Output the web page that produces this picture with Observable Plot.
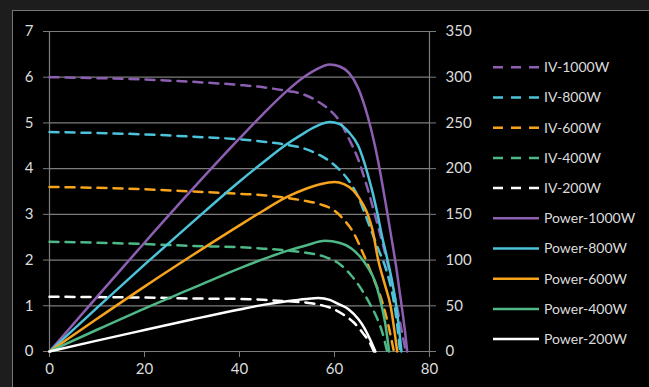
<!DOCTYPE html>
<html>
<head>
<meta charset="utf-8">
<script src="https://cdn.jsdelivr.net/npm/d3@7"></script>
<script src="https://cdn.jsdelivr.net/npm/@observablehq/plot@0.6"></script>
<style>
  html, body { margin: 0; padding: 0; background: #1d1d1d; width: 649px; height: 387px; overflow: hidden; }
  #panel { position: absolute; left: 12px; top: 10px; width: 700px; height: 420px; background: #000; border: 1.5px solid #767676; }
  #chart { position: absolute; left: 0; top: 0; }
  #legend { position: absolute; left: 0; top: 0; }
</style>
</head>
<body>
<div id="panel"></div>
<div id="chart"></div>
<svg id="legend" width="649" height="387"></svg>
<script>
// ---- Data (voltage V, current A, power W) ----
const iv1000V = [0, 10, 20, 30, 40, 45, 50, 53, 56, 59, 61, 63, 65, 67, 69, 71, 73, 75];
const iv1000I = [6.00, 5.98, 5.95, 5.90, 5.83, 5.78, 5.70, 5.64, 5.50, 5.28, 5.05, 4.66, 4.20, 3.55, 2.80, 2.00, 1.05, 0];
const pw1000V = [0, 10, 20, 30, 40, 45, 50, 53, 56, 59, 61, 63, 65, 67, 69, 71, 72, 73, 74, 75, 75.3];
const pw1000P = [0, 59.8, 119, 177, 233, 260, 285, 298, 308, 314, 312, 305, 288, 257, 213, 155, 124, 92, 55, 15, 0];

const iv800V = [0, 10, 20, 30, 40, 45, 50, 53, 56, 59, 61, 63, 65, 67, 69, 71, 72, 73, 73.8];
const iv800I = [4.80, 4.78, 4.75, 4.70, 4.64, 4.59, 4.52, 4.46, 4.34, 4.16, 3.98, 3.74, 3.38, 2.85, 2.30, 1.75, 1.35, 0.75, 0];
const pw800V = [0, 10, 20, 30, 40, 45, 50, 53, 56, 59, 61, 63, 65, 67, 69, 70, 71, 72, 73, 74.1];
const pw800P = [0, 47.8, 95, 141, 186, 207, 227, 237, 246, 251, 249, 240, 225, 194, 152, 126, 104, 80, 50, 0];

const iv600V = [0, 10, 20, 30, 40, 45, 50, 54, 57, 60, 62, 64, 66, 68, 70, 71.5, 72.5];
const iv600I = [3.60, 3.58, 3.55, 3.50, 3.45, 3.42, 3.36, 3.29, 3.22, 3.08, 2.88, 2.60, 2.15, 1.65, 1.10, 0.50, 0];
const pw600V = [0, 10, 20, 30, 40, 45, 50, 54, 57, 60, 62, 64, 66, 67, 68, 69.2, 70.5, 71.8, 73.2];
const pw600P = [0, 35.8, 71, 105, 138, 154, 169, 178, 183, 185.5, 183, 176, 161, 150, 133, 100, 75, 50, 0];

const iv400V = [0, 10, 20, 30, 40, 45, 50, 54, 58, 61, 63.4, 65.3, 67.4, 69, 70, 71.1];
const iv400I = [2.40, 2.38, 2.35, 2.31, 2.28, 2.25, 2.21, 2.16, 2.07, 1.92, 1.68, 1.42, 1.05, 0.72, 0.44, 0];
const pw400V = [0, 10, 20, 30, 40, 45, 50, 54, 58, 61, 63.5, 65.5, 67, 68.5, 69.7, 70.7, 71.5];
const pw400P = [0, 23.8, 47, 69, 91, 101, 110, 116, 121, 119, 113, 103, 92, 77, 55, 30, 0];

const iv200V = [0, 10, 20, 30, 40, 45, 50, 54, 57, 60, 62, 64, 66, 67.5, 68.3];
const iv200I = [1.20, 1.19, 1.18, 1.16, 1.15, 1.13, 1.10, 1.07, 1.02, 0.92, 0.80, 0.64, 0.40, 0.18, 0];
const pw200V = [0, 10, 20, 30, 40, 45, 50, 54, 56.6, 59, 61, 63, 65, 66.2, 67.6, 68.6];
const pw200P = [0, 11.9, 23.5, 35, 46, 51, 55, 57.5, 58.5, 56.5, 51.5, 46, 35.5, 26.5, 12, 0];

const xTicks = [0, 20, 40, 60, 80];
const yTicksLeft = [0, 1, 2, 3, 4, 5, 6, 7];
const powerPerAmpTick = 50; // right axis: 0..350

const seriesNames = ["IV-1000W", "IV-800W", "IV-600W", "IV-400W", "IV-200W",
                     "Power-1000W", "Power-800W", "Power-600W", "Power-400W", "Power-200W"];
const seriesColors = ["#8d5fb2", "#4cc3d9", "#f7a31c", "#4fb887", "#ffffff",
                      "#8d5fb2", "#4cc3d9", "#f7a31c", "#4fb887", "#ffffff"];

const ivSets = [[iv1000V, iv1000I], [iv800V, iv800I], [iv600V, iv600I], [iv400V, iv400I], [iv200V, iv200I]];
const pwSets = [[pw1000V, pw1000P], [pw800V, pw800P], [pw600V, pw600P], [pw400V, pw400P], [pw200V, pw200P]];

const gray = "#7c7c7c";
const textColor = "#dcdcdc";
const dash = "9,7";
const font = "Lato, 'Open Sans', sans-serif";

const ivMarks = ivSets.map(([vs, is], k) =>
  Plot.line(vs.map((v, i) => ({v, y: is[i]})), {
    x: "v", y: "y", stroke: seriesColors[k], strokeWidth: 2.5,
    strokeDasharray: dash, curve: "monotone-x"
  }));
const pwMarks = pwSets.map(([vs, ps], k) =>
  Plot.line(vs.map((v, i) => ({v, p: ps[i]})), {
    x: "v", y: d => d.p / powerPerAmpTick, stroke: seriesColors[k + 5], strokeWidth: 2.5,
    curve: "monotone-x"
  }));

const chart = Plot.plot({
  width: 649,
  height: 387,
  marginLeft: 49,
  marginRight: 220,
  marginTop: 31,
  marginBottom: 36,
  style: {background: "transparent", color: textColor, fontFamily: font, fontSize: "15px"},
  x: {domain: [0, 80]},
  y: {domain: [0, 7]},
  marks: [
    Plot.gridY(yTicksLeft, {stroke: gray, strokeOpacity: 1, strokeWidth: 1.2}),
    Plot.ruleX([0, 80], {stroke: gray, strokeWidth: 1.2}),
    Plot.axisY({anchor: "left", ticks: yTicksLeft, tickSize: 6, tickPadding: 10, label: null,
                tickFormat: d => String(d), stroke: gray, fill: textColor, fontSize: 15}),
    Plot.axisY({anchor: "right", ticks: yTicksLeft, tickSize: 6, tickPadding: 10, label: null,
                tickFormat: d => String(d * powerPerAmpTick), stroke: gray, fill: textColor, fontSize: 15}),
    Plot.axisX({ticks: xTicks, tickSize: 6, tickPadding: 6, label: null,
                tickFormat: d => String(d), stroke: gray, fill: textColor, fontSize: 15}),
    ...ivMarks,
    ...pwMarks
  ]
});
document.getElementById("chart").append(chart);

// Legend
const lg = d3.select("#legend");
seriesNames.forEach((name, i) => {
  const y = 67.3 + i * 30.2;
  lg.append("line")
    .attr("x1", 493).attr("x2", 539).attr("y1", y).attr("y2", y)
    .attr("stroke", seriesColors[i]).attr("stroke-width", 2.5)
    .attr("stroke-dasharray", i < 5 ? "10,8" : null);
  lg.append("text")
    .attr("x", 544).attr("y", y).attr("dy", "0.35em")
    .attr("fill", textColor)
    .style("font-family", font).style("font-size", "14px")
    .text(name);
});
</script>
</body>
</html>
